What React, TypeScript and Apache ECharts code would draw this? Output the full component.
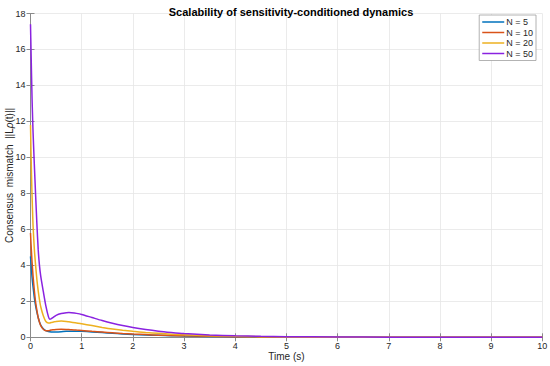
import React, { useEffect, useRef } from "react";
import * as echarts from "echarts";

const time = [0, 0.01, 0.02, 0.03, 0.04, 0.05, 0.075, 0.1, 0.125, 0.15, 0.175, 0.2, 0.25, 0.3, 0.35, 0.375, 0.4, 0.45, 0.5, 0.6, 0.7, 0.75, 0.8, 0.9, 1.0, 1.2, 1.4, 1.6, 1.8, 2.0, 2.25, 2.5, 2.75, 3, 3.5, 4, 4.5, 5, 6, 7, 8, 9, 10];

const n5 = [4.5, 4.1, 3.7, 3.35, 3.05, 2.8, 2.2, 1.75, 1.4, 1.1, 0.85, 0.68, 0.48, 0.37, 0.32, 0.31, 0.3, 0.3, 0.3, 0.31, 0.33, 0.33, 0.34, 0.34, 0.33, 0.3, 0.26, 0.22, 0.19, 0.16, 0.13, 0.11, 0.09, 0.07, 0.05, 0.03, 0.02, 0.013, 0.005, 0.002, 0.001, 0.0004, 0.0002];
const n10 = [5.8, 5.2, 4.7, 4.2, 3.8, 3.4, 2.6, 1.95, 1.5, 1.1, 0.85, 0.65, 0.45, 0.37, 0.37, 0.38, 0.4, 0.42, 0.44, 0.45, 0.44, 0.43, 0.42, 0.4, 0.38, 0.33, 0.29, 0.25, 0.21, 0.18, 0.15, 0.12, 0.1, 0.08, 0.055, 0.035, 0.022, 0.014, 0.005, 0.002, 0.001, 0.0004, 0.0002];
const n20 = [11.8, 10.3, 9.0, 7.9, 7.0, 6.2, 4.9, 4.0, 3.2, 2.6, 2.1, 1.7, 1.2, 0.88, 0.8, 0.8, 0.82, 0.85, 0.88, 0.9, 0.88, 0.86, 0.84, 0.8, 0.75, 0.65, 0.55, 0.46, 0.39, 0.33, 0.27, 0.22, 0.17, 0.14, 0.09, 0.055, 0.035, 0.02, 0.008, 0.003, 0.001, 0.0005, 0.0002];
const n50 = [17.4, 16.0, 14.6, 13.3, 12.3, 11.4, 9.6, 7.9, 6.3, 4.9, 4.0, 3.4, 2.55, 1.75, 1.15, 1.0, 1.02, 1.12, 1.22, 1.32, 1.37, 1.38, 1.37, 1.33, 1.27, 1.1, 0.93, 0.78, 0.65, 0.54, 0.43, 0.34, 0.27, 0.21, 0.13, 0.085, 0.055, 0.035, 0.015, 0.007, 0.003, 0.001, 0.0005];

const seriesNames = ["N = 5", "N = 10", "N = 20", "N = 50"];
const seriesValues = [n5, n10, n20, n50];
const colors = ["#0072BD", "#D95319", "#EDB120", "#8A22E0"];

const FONT = "'Liberation Sans', Arial, Helvetica, sans-serif";
const TXT = "#262626";
const AX = "#8a8a8a";

export default function App() {
  const ref = useRef<HTMLDivElement>(null);
  useEffect(() => {
    if (!ref.current) return;
    const chart = echarts.init(ref.current, undefined, { renderer: "svg" });
    const grid = { left: 30.5, right: 7.7, top: 13.5, bottom: 28.7 };
    const hiddenAxisCommon = {
      axisLabel: { show: false },
      splitLine: { show: false },
      axisLine: { show: true, lineStyle: { color: AX, width: 1 } },
      axisTick: { show: true, inside: true, length: 4, lineStyle: { color: AX } },
    };
    chart.setOption({
      animation: false,
      backgroundColor: "#ffffff",
      textStyle: { fontFamily: FONT },
      title: {
        text: "Scalability of sensitivity-conditioned dynamics",
        left: 286,
        top: 1,
        textAlign: "center",
        textStyle: { fontSize: 11, fontWeight: "bold", color: "#000", fontFamily: FONT },
      },
      legend: {
        orient: "vertical",
        right: 14,
        top: 15,
        data: seriesNames.map((n, i) => ({ name: n, icon: "rect", itemStyle: { color: colors[i] } })),
        itemWidth: 22,
        itemHeight: 1.5,
        itemGap: 0.5,
        padding: [2, 3, 2, 3],
        backgroundColor: "#fff",
        borderColor: "#a0a0a0",
        borderWidth: 0.8,
        borderRadius: 0,
        textStyle: { fontSize: 9, color: TXT, fontFamily: FONT, lineHeight: 10, padding: [0, 0, 0, -3] },
      },
      grid: { ...grid, containLabel: false, outerBoundsMode: "none" },
      xAxis: [
        {
          type: "value",
          min: 0,
          max: 10,
          interval: 1,
          name: "Time (s)",
          nameLocation: "middle",
          nameGap: 14.5,
          nameMoveOverlap: false,
          nameTextStyle: { fontSize: 10, color: TXT, fontFamily: FONT },
          axisLine: { show: true, lineStyle: { color: AX, width: 1 } },
          axisTick: { show: true, inside: true, length: 4, lineStyle: { color: AX } },
          axisLabel: { fontSize: 9, color: TXT, margin: 4, fontFamily: FONT },
          splitLine: { show: true, lineStyle: { color: "#e6e6e6", width: 0.8 } },
        },
        { type: "value", min: 0, max: 10, interval: 1, position: "top", ...hiddenAxisCommon },
      ],
      yAxis: [
        {
          type: "value",
          min: 0,
          max: 18,
          interval: 2,
          name: "Consensus  mismatch  ||L{i|ρ}(t)||",
          nameLocation: "middle",
          nameGap: 16,
          nameMoveOverlap: false,
          nameTextStyle: {
            fontSize: 10,
            color: TXT,
            fontFamily: FONT,
            rich: { i: { fontStyle: "italic", fontSize: 10, color: TXT, fontFamily: FONT } },
          },
          axisLine: { show: true, lineStyle: { color: AX, width: 1 } },
          axisTick: { show: true, inside: true, length: 4, lineStyle: { color: AX } },
          axisLabel: { fontSize: 9, color: TXT, margin: 5, fontFamily: FONT },
          splitLine: { show: true, lineStyle: { color: "#e6e6e6", width: 0.8 } },
        },
        { type: "value", min: 0, max: 18, interval: 2, position: "right", ...hiddenAxisCommon },
      ],
      series: seriesValues.map((vals, i) => ({
        name: seriesNames[i],
        type: "line",
        xAxisIndex: 0,
        yAxisIndex: 0,
        data: time.map((t, k) => [t, vals[k]]),
        showSymbol: false,
        smooth: 0.25,
        lineStyle: { color: colors[i], width: 1.5 },
        itemStyle: { color: colors[i] },
        z: 2 + i,
      })),
    });
    return () => chart.dispose();
  }, []);
  return <div ref={ref} style={{ width: 550, height: 366, position: "absolute", left: 0, top: 0 }} />;
}
